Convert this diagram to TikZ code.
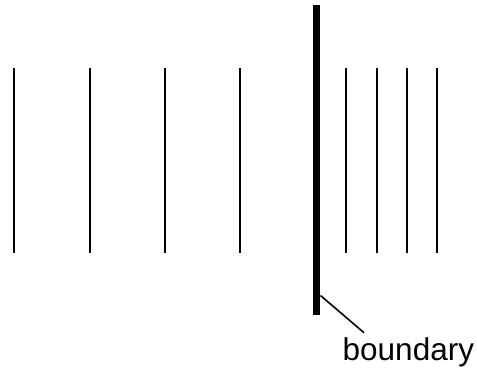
\documentclass[tikz,border=0pt]{standalone}
\usepackage{fontspec}
\setmainfont{Liberation Sans}
\begin{document}
\begin{tikzpicture}[x=1pt,y=-1pt,
  thin line/.style={line width=2pt},
  thick line/.style={line width=7.5pt}]
\useasboundingbox (0,0) rectangle (477,373);
\foreach \x [count=\i] in {14,89.5,164.8,240.3,346.3,376.7,407,437.3}{
  \coordinate (t\i) at (\x,67.5);
  \coordinate (b\i) at (\x,252.7);
  \draw[thin line] (t\i) -- (b\i);
}
\coordinate (bt) at (316.5,5.3);
\coordinate (bb) at (316.5,315);
\draw[thick line] (bt) -- (bb);
\coordinate (lstart) at (320.5,295.5);
\node[anchor=base west,inner sep=0pt,font=\fontsize{31.5}{36}\selectfont] (lab) at (342.5,360.7) {boundary};
\coordinate (lend) at (364,332.7);
\draw[line width=1.6pt] (lstart) -- (lend);
\end{tikzpicture}
\end{document}
